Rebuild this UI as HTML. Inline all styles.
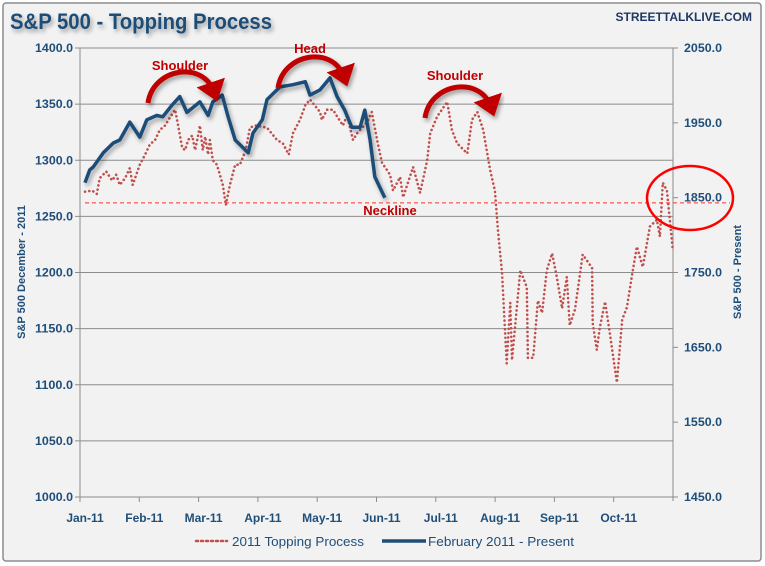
<!DOCTYPE html>
<html><head><meta charset="utf-8"><style>
body{margin:0;background:#fff;}
svg{display:block;font-family:"Liberation Sans",sans-serif;}
</style></head><body>
<svg id="chart" width="765" height="566" viewBox="0 0 765 566">
<defs>
<filter id="sh" x="-10%" y="-10%" width="130%" height="130%"><feDropShadow dx="2" dy="3" stdDeviation="2" flood-color="#000" flood-opacity="0.35"/></filter>
<marker id="ah" markerWidth="6" markerHeight="6" refX="2" refY="3" orient="auto" markerUnits="strokeWidth"><path d="M0,0 L4,3 L0,6 z" fill="#c00000"/></marker>
</defs>
<rect x="3" y="3" width="758" height="558" rx="3" fill="#f2f2f2" stroke="#8c8c8c" stroke-width="1.5"/>
<text x="10" y="29" font-size="22" font-weight="bold" fill="#1f4e79" filter="url(#sh)" textLength="262" lengthAdjust="spacingAndGlyphs">S&amp;P 500 - Topping Process</text>
<text x="752" y="21" font-size="12" font-weight="bold" fill="#1f3864" text-anchor="end">STREETTALKLIVE.COM</text>
<g id="grid"></g>
<g id="axes"></g>
<g id="series"></g>
<g id="annot"></g>
<text transform="translate(25,272) rotate(-90)" font-size="11" font-weight="bold" fill="#1f4e79" text-anchor="middle">S&amp;P 500 December - 2011</text>
<text transform="translate(741,272) rotate(-90)" font-size="11" font-weight="bold" fill="#1f4e79" text-anchor="middle">S&amp;P 500 - Present</text>
<g>
<line x1="196" y1="541" x2="227" y2="541" stroke="#c0504d" stroke-width="2.5" stroke-dasharray="2 3" stroke-linecap="round"/>
<text x="232" y="546" font-size="13" fill="#1f4e79" textLength="132" lengthAdjust="spacingAndGlyphs">2011 Topping Process</text>
<line x1="382" y1="541" x2="426" y2="541" stroke="#1f4e79" stroke-width="3.5"/>
<text x="428" y="546" font-size="13" fill="#1f4e79" textLength="146" lengthAdjust="spacingAndGlyphs">February 2011 - Present</text>
</g>
</svg>
<script>
const monthLabels=["Jan-11","Feb-11","Mar-11","Apr-11","May-11","Jun-11","Jul-11","Aug-11","Sep-11","Oct-11"];
const leftTicks=[1000,1050,1100,1150,1200,1250,1300,1350,1400];
const rightTicks=[1450,1550,1650,1750,1850,1950,2050];
const redMonths=[0,.12,.20,.25,.36,.46,.53,.59,.68,.76,.81,.93,1.02,1.10,1.19,1.27,1.36,1.44,1.53,1.58,1.65,1.70,1.75,1.82,1.87,1.92,1.95,2.00,2.04,2.09,2.12,2.17,2.24,2.29,2.34,2.39,2.46,2.55,2.63,2.73,2.80,2.89,3.09,3.26,3.36,3.46,3.53,3.65,3.74,3.82,3.99,4.02,4.11,4.21,4.28,4.38,4.45,4.55,4.62,4.79,4.87,4.96,5.04,5.18,5.23,5.35,5.40,5.57,5.69,5.81,5.86,5.98,6.15,6.23,6.32,6.49,6.57,6.66,6.76,6.88,6.96,7.01,7.08,7.16,7.22,7.25,7.39,7.50,7.52,7.61,7.69,7.76,7.84,7.93,8.01,8.10,8.18,8.23,8.32,8.45,8.61,8.62,8.69,8.74,8.83,8.91,9.03,9.12,9.20,9.30,9.37,9.47,9.59,9.71,9.76,9.81,9.88,9.98];
const redValues=[1272,1273,1270,1284,1290,1282,1287,1278,1284,1293,1278,1296,1305,1314,1318,1327,1331,1338,1345,1331,1311,1309,1318,1322,1309,1322,1331,1309,1321,1305,1318,1300,1296,1287,1278,1260,1278,1296,1296,1309,1329,1331,1329,1318,1315,1305,1324,1336,1349,1354,1343,1336,1345,1345,1339,1331,1340,1318,1324,1334,1343,1318,1298,1287,1273,1285,1267,1294,1271,1300,1324,1339,1352,1327,1315,1306,1336,1343,1327,1291,1273,1238,1200,1119,1173,1122,1202,1187,1124,1124,1175,1164,1202,1217,1196,1168,1196,1153,1167,1216,1204,1155,1131,1151,1174,1146,1102,1158,1169,1202,1223,1205,1241,1247,1232,1280,1273,1220];
const blueMonths=[0,.08,.14,.31,.48,.59,.76,.93,1.05,1.22,1.32,1.48,1.61,1.73,1.95,2.09,2.17,2.33,2.43,2.55,2.77,2.85,3.01,3.09,3.31,3.53,3.74,3.82,3.99,4.16,4.28,4.41,4.53,4.67,4.75,4.84,4.92,5.09];
const blueValues=[1870,1887,1891,1910,1923,1927,1951,1931,1954,1960,1958,1974,1985,1964,1978,1960,1978,1987,1958,1927,1910,1936,1954,1981,1998,2001,2005,1987,1994,2010,1985,1967,1944,1944,1967,1927,1878,1850];
const necklineValue=1262;

const NS="http://www.w3.org/2000/svg";
const PL=80,PR=673,PT=48,PB=497;
const xData=m=>85+m*58.9;
const yL=v=>PB-(v-1000)/400*(PB-PT);
const yR=v=>PB-(v-1450)/600*(PB-PT);
function mk(tag,attrs,parent){const e=document.createElementNS(NS,tag);for(const k in attrs)e.setAttribute(k,attrs[k]);parent.appendChild(e);return e;}
const grid=document.getElementById('grid'),axes=document.getElementById('axes'),series=document.getElementById('series'),annot=document.getElementById('annot');
leftTicks.forEach(v=>{
  const g=mk('line',{x1:PL,x2:PR,y1:yL(v),y2:yL(v),stroke:'#8c8c8c','stroke-width':1},grid);
  
  
  const t=mk('line',{x1:PL-5,x2:PL,y1:yL(v),y2:yL(v),stroke:'#8c8c8c'},axes);
  
  
  const l=mk('text',{x:73,y:yL(v)+4,'font-size':12,'font-weight':'bold',fill:'#1f4e79','text-anchor':'end',textLength:38,lengthAdjust:'spacingAndGlyphs'},axes);
  l.textContent=v.toFixed(1);
  
  
});
rightTicks.forEach(v=>{
  const t=mk('line',{x1:PR,x2:PR+5,y1:yR(v),y2:yR(v),stroke:'#8c8c8c'},axes);
  
  
  const l=mk('text',{x:684,y:yR(v)+4,'font-size':12,'font-weight':'bold',fill:'#1f4e79',textLength:38,lengthAdjust:'spacingAndGlyphs'},axes);
  l.textContent=v.toFixed(1);
  
  
});
const la=mk('line',{x1:PL,x2:PL,y1:PT,y2:PB,stroke:'#8c8c8c'},axes);


const ra=mk('line',{x1:PR,x2:PR,y1:PT,y2:PB+4,stroke:'#8c8c8c'},axes);


const xa=mk('line',{x1:PL-5,x2:PR,y1:PB,y2:PB,stroke:'#8c8c8c'},axes);


monthLabels.forEach((m,i)=>{
  const tx=PL+i*59.3;
  const t=mk('line',{x1:tx,x2:tx,y1:PB,y2:PB+5,stroke:'#8c8c8c'},axes);
  
  
  const l=mk('text',{x:tx+5,y:522,'font-size':12,'font-weight':'bold',fill:'#1f4e79','text-anchor':'middle'},axes);
  l.textContent=m;
  
  
});
const nk=mk('line',{x1:85,x2:730,y1:yL(necklineValue),y2:yL(necklineValue),stroke:'#ff3030','stroke-width':1,'stroke-dasharray':'4 3'},annot);


const rp=redMonths.map((m,i)=>xData(m).toFixed(1)+','+yL(redValues[i]).toFixed(1)).join(' ');
const red=mk('polyline',{points:rp,fill:'none',stroke:'#c0504d','stroke-width':2.6,'stroke-dasharray':'0.1 4.2','stroke-linecap':'round','stroke-linejoin':'round'},series);


const bp=blueMonths.map((m,i)=>xData(m).toFixed(1)+','+yR(blueValues[i]).toFixed(1)).join(' ');
const blue=mk('polyline',{points:bp,fill:'none',stroke:'#1f4e79','stroke-width':3.5,'stroke-linejoin':'round',filter:'url(#sh)'},series);


[[148,103,218,100,'shoulder-left-arrow'],[278,88,348,85,'head-arrow'],[425,118,495,115,'shoulder-right-arrow']].forEach(a=>{
  const [x1,y1,x2,y2,n]=a;
  const p=mk('path',{d:`M${x1},${y1} C${x1+5},${y1-35} ${x2-15},${y2-40} ${x2-4},${y2-8}`,fill:'none',stroke:'#c00000','stroke-width':5,'marker-end':'url(#ah)',filter:'url(#sh)'},annot);
  
  
});
[[180,70,'Shoulder','shoulder-left-label'],[310,53,'Head','head-label'],[455,80,'Shoulder','shoulder-right-label'],[390,215,'Neckline','neckline-label']].forEach(t=>{
  const l=mk('text',{x:t[0],y:t[1],'font-size':13,'font-weight':'bold',fill:'#c00000','text-anchor':'middle'},annot);
  l.textContent=t[2];
  
  
});
const el=mk('ellipse',{cx:690,cy:198,rx:43,ry:32,fill:'none',stroke:'#ff0000','stroke-width':2.5},annot);


</script>
</body></html>
